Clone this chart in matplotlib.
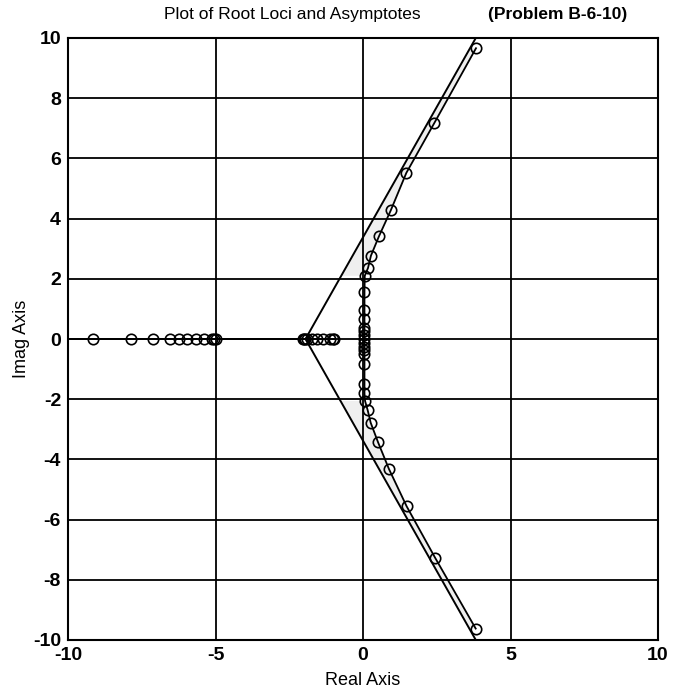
import numpy as np
import matplotlib
matplotlib.use("Agg")
import matplotlib.pyplot as plt

plt.rcParams['font.family'] = ['Liberation Sans', 'DejaVu Sans']
plt.rcParams['axes.unicode_minus'] = False

# ---- data ----
title_main = "Plot of Root Loci and Asymptotes"
title_problem = "(Problem B-6-10)"
xlabel = "Real Axis"
ylabel = "Imag Axis"

x_ticks = [-10, -5, 0, 5, 10]
y_ticks = [-10, -8, -6, -4, -2, 0, 2, 4, 6, 8, 10]

# complex branch (upper half, from top down to the imaginary axis)
upper_re = [3.83, 2.42, 1.47, 0.94, 0.54, 0.27, 0.17, 0.06]
upper_im = [9.66, 7.18, 5.52, 4.27, 3.41, 2.77, 2.36, 2.10]
# points along the imaginary axis
axis_re = [0.05, 0.05, 0.05, 0.05, 0.05, 0.05, 0.05, 0.05, 0.05, 0.05, 0.05, 0.05, 0.05, 0.05]
axis_im = [1.55, 0.95, 0.66, 0.38, 0.25, 0.12, 0.0, -0.12, -0.25, -0.38, -0.50, -0.84, -1.50, -1.80]
# complex branch (lower half, from imaginary axis down)
lower_re = [0.07, 0.16, 0.26, 0.51, 0.88, 1.48, 2.44, 3.82]
lower_im = [-2.06, -2.37, -2.78, -3.43, -4.32, -5.56, -7.26, -9.62]

# real-axis branches
left_branch_re = [-9.14, -7.88, -7.11, -6.53, -6.25, -5.97, -5.67, -5.38, -5.13, -5.05, -5.0]
mid_branch_re = [-2.05, -2.0, -1.95, -1.9, -1.72, -1.55, -1.34, -1.11, -1.02, -0.98]

# asymptotes
asym_center = -1.95
asym_angles_deg = [60, -60]

xlim = (-10, 10)
ylim = (-10, 10)

# ---- figure ----
fig = plt.figure(figsize=(6.73, 6.94), dpi=100)
ax = fig.add_axes([68/673, 1-640/694, 590/673, 602/694])
ax.set_xlim(*xlim)
ax.set_ylim(*ylim)

# grid
for xv in x_ticks:
    ax.axvline(xv, color='black', lw=1.3, zorder=1)
for yv in y_ticks:
    ax.axhline(yv, color='black', lw=1.3, zorder=1)

# locus complex branch combined
loc_re = np.array(upper_re + axis_re + lower_re)
loc_im = np.array(upper_im + axis_im + lower_im)

# asymptote lines
for ang in asym_angles_deg:
    t = np.tan(np.radians(ang))
    yend = ylim[1] if t > 0 else ylim[0]
    xend = asym_center + yend / t
    ax.plot([asym_center, xend], [0, yend], color='black', lw=1.4, zorder=3)
# 180 degree asymptote along the negative real axis
ax.plot([xlim[0], asym_center], [0, 0], color='black', lw=1.4, zorder=3)

# faint shading between asymptote and locus (as in the scan)
def asym_x(y):
    return asym_center + np.abs(y) / np.tan(np.radians(60))

for re_arr, im_arr in ((upper_re, upper_im), (lower_re, lower_im)):
    re_arr = np.array(re_arr)
    im_arr = np.array(im_arr)
    poly_x = np.concatenate([re_arr, asym_x(im_arr[::-1])])
    poly_y = np.concatenate([im_arr, im_arr[::-1]])
    ax.fill(poly_x, poly_y, color='#efefef', lw=0, zorder=0.5)

mk = dict(marker='o', mfc='none', mec='black', ms=7.5, mew=1.2, color='black', lw=1.3, zorder=4)
ax.plot(loc_re, loc_im, **mk)
ax.plot(left_branch_re, np.zeros(len(left_branch_re)), **mk)
ax.plot(mid_branch_re, np.zeros(len(mid_branch_re)), **mk)

# axes styling
for s in ax.spines.values():
    s.set_linewidth(1.5)
    s.set_color('black')
ax.set_xticks(x_ticks)
ax.set_yticks(y_ticks)
ax.tick_params(direction='in', length=0, labelsize=14, pad=5)
for lab in ax.get_xticklabels() + ax.get_yticklabels():
    lab.set_fontweight('bold')
ax.set_xlabel(xlabel, fontsize=13, labelpad=6)
ax.set_ylabel(ylabel, fontsize=13, labelpad=2)

fig.text(292/673, 1-15/694, title_main, ha='center', va='center', fontsize=12.5)
fig.text(558/673, 1-15/694, title_problem, ha='center', va='center', fontsize=12.5, fontweight='bold')

fig.savefig("out.png", dpi=100)
